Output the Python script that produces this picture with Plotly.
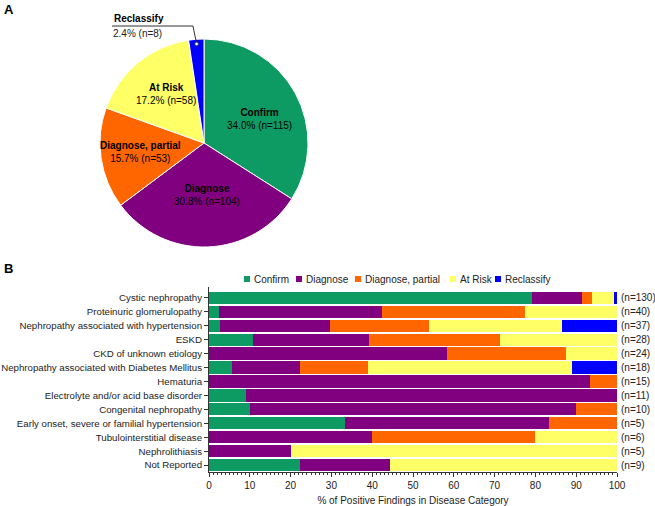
import math
import plotly.graph_objects as go

W, H = 655, 506

outcomes = ["Confirm", "Diagnose", "Diagnose, partial", "At Risk", "Reclassify"]
colors = ["#0E9B63", "#800080", "#FF6600", "#FFFF66", "#0000FF"]

# Panel A: counts per outcome
pie_counts = [115, 104, 53, 58, 8]

# Panel B: disease categories
categories = [
    "Cystic nephropathy",
    "Proteinuric glomerulopathy",
    "Nephropathy associated with hypertension",
    "ESKD",
    "CKD of unknown etiology",
    "Nephropathy associated with Diabetes Mellitus",
    "Hematuria",
    "Electrolyte and/or acid base disorder",
    "Congenital nephropathy",
    "Early onset, severe or familial hypertension",
    "Tubulointerstitial disease",
    "Nephrolithiasis",
    "Not Reported",
]
n_counts = [130, 40, 37, 28, 24, 18, 15, 11, 10, 5, 6, 5, 9]

# percentage of positive findings per outcome
pct_confirm = [79.2, 2.5, 2.7, 10.7, 0.0, 5.6, 0.0, 9.1, 10.0, 33.3, 0.0, 0.0, 22.2]
pct_diagnose = [12.3, 40.0, 27.0, 28.6, 58.3, 16.7, 93.3, 90.9, 80.0, 50.0, 40.0, 20.0, 22.2]
pct_partial = [2.3, 35.0, 24.3, 32.1, 29.2, 16.7, 6.7, 0.0, 10.0, 16.7, 40.0, 0.0, 0.0]
pct_atrisk = [5.4, 22.5, 32.4, 28.6, 12.5, 50.0, 0.0, 0.0, 0.0, 0.0, 20.0, 80.0, 55.6]
pct_reclass = [0.8, 0.0, 13.5, 0.0, 0.0, 11.1, 0.0, 0.0, 0.0, 0.0, 0.0, 0.0, 0.0]
series = [pct_confirm, pct_diagnose, pct_partial, pct_atrisk, pct_reclass]


def px(x):
    return x / W


def py(y):
    return 1 - y / H


FONT = "Liberation Sans, Arial, sans-serif"
FS = 9.7
FP = 10

fig = go.Figure()

# ---- Pie (panel A)
cx, cy, r = 204, 143, 104
fig.add_trace(go.Pie(
    labels=outcomes, values=pie_counts, sort=False, direction="clockwise",
    rotation=0, marker=dict(colors=colors, line=dict(color="white", width=1)),
    textinfo="none", showlegend=False, hoverinfo="label+percent",
    domain=dict(x=[px(cx - r), px(cx + r)], y=[py(cy + r), py(cy - r)]),
))

annotations = []
shapes = []

# pie slice labels placed at slice mid-angles
total = sum(pie_counts)
label_rfrac = [0.6, 0.5, 0.6, 0.62]
label_dx = [1, 1, -2, 3]
label_dy = [6, 0, 0, 1]
cum = 0
mid_angles = []
for v in pie_counts:
    mid_angles.append(2 * math.pi * (cum + v / 2) / total)
    cum += v
for i in range(4):
    a = mid_angles[i]
    lx = cx + label_rfrac[i] * r * math.sin(a) + label_dx[i]
    ly = cy - label_rfrac[i] * r * math.cos(a) + label_dy[i]
    pct = 100 * pie_counts[i] / total
    annotations.append(dict(
        x=px(lx), y=py(ly), xref="paper", yref="paper", xanchor="center",
        yanchor="middle", showarrow=False, align="center",
        text=f"<b>{outcomes[i]}</b><br>{pct:.1f}% (n={pie_counts[i]})",
        font=dict(family=FONT, size=FP, color="black")))

# Reclassify callout
a = mid_angles[4]
dx = cx + 0.955 * r * math.sin(a)
dy = cy - 0.955 * r * math.cos(a)
shapes += [
    dict(type="path", xref="paper", yref="paper",
         path=f"M {px(112)} {py(26)} L {px(193)} {py(26)} L {px(dx)} {py(dy)}",
         line=dict(color="#333", width=1)),
    dict(type="circle", xref="paper", yref="paper",
         x0=px(dx - 1.8), x1=px(dx + 1.8), y0=py(dy + 1.8), y1=py(dy - 1.8),
         fillcolor="white", line=dict(color="#333", width=0.8)),
]
rpct = 100 * pie_counts[4] / total
annotations += [
    dict(x=px(112), y=py(18.5), xref="paper", yref="paper", xanchor="left",
         yanchor="middle", text=f"<b>{outcomes[4]}</b>", showarrow=False,
         font=dict(family=FONT, size=FP, color="black")),
    dict(x=px(111), y=py(33.5), xref="paper", yref="paper", xanchor="left",
         yanchor="middle", text=f"{rpct:.1f}% (n={pie_counts[4]})", showarrow=False,
         font=dict(family=FONT, size=FP, color="#222")),
    dict(x=px(2), y=py(10), xref="paper", yref="paper", xanchor="left",
         yanchor="middle", text="<b>A</b>", showarrow=False,
         font=dict(family=FONT, size=13, color="black")),
    dict(x=px(2), y=py(268), xref="paper", yref="paper", xanchor="left",
         yanchor="middle", text="<b>B</b>", showarrow=False,
         font=dict(family=FONT, size=13, color="black")),
]

# ---- Stacked bars (panel B)
for name, col, vals in zip(outcomes, colors, series):
    fig.add_trace(go.Bar(
        name=name, x=vals, y=categories, orientation="h", showlegend=False,
        marker=dict(color=col, line=dict(width=0)),
    ))

# n labels
for cat, n in zip(categories, n_counts):
    annotations.append(dict(x=100, y=cat, xref="x", yref="y", xanchor="left",
                            xshift=2, text=f"(n={n})", showarrow=False,
                            font=dict(family=FONT, size=FP, color="#222")))

# manual compact legend
legend_x = [244, 296, 355, 450, 495]
for name, col, lx in zip(outcomes, colors, legend_x):
    shapes.append(dict(type="rect", xref="paper", yref="paper",
                       x0=px(lx), x1=px(lx + 6), y0=py(282), y1=py(276),
                       fillcolor=col, line=dict(width=0)))
    annotations.append(dict(x=px(lx + 8), y=py(279), xref="paper", yref="paper",
                            xanchor="left", yanchor="middle", text=name,
                            showarrow=False,
                            font=dict(family=FONT, size=FP, color="#222")))

fig.update_layout(
    width=W, height=H, margin=dict(l=0, r=0, t=0, b=0),
    paper_bgcolor="white", plot_bgcolor="white",
    barmode="stack", bargap=0.12, showlegend=False,
    font=dict(family=FONT, size=FS, color="#222"),
    xaxis=dict(domain=[px(209), px(617)], range=[0, 100], dtick=10,
               automargin=False,
               showgrid=False, zeroline=False, showline=True,
               linecolor="#333", linewidth=1, ticks="outside", ticklen=4,
               tickcolor="#333", anchor="y",
               minor=dict(dtick=1, ticks="outside", ticklen=2, tickcolor="#333"),
               title=dict(text="% of Positive Findings in Disease Category",
                          font=dict(family=FONT, size=FP), standoff=7),
               tickfont=dict(family=FONT, size=FP)),
    yaxis=dict(domain=[py(472), py(287)], categoryorder="array",
               categoryarray=categories, range=[12.5, -0.78],
               automargin=False,
               showgrid=False, zeroline=False, showline=True,
               linecolor="#333", linewidth=1, ticks="outside", ticklen=4,
               tickcolor="#333", anchor="x",
               tickfont=dict(family=FONT, size=FS)),
    annotations=annotations, shapes=shapes,
)

fig.write_html("out.html", config={"displayModeBar": False},
               post_script="document.body.style.margin='0';document.body.style.padding='0';")
